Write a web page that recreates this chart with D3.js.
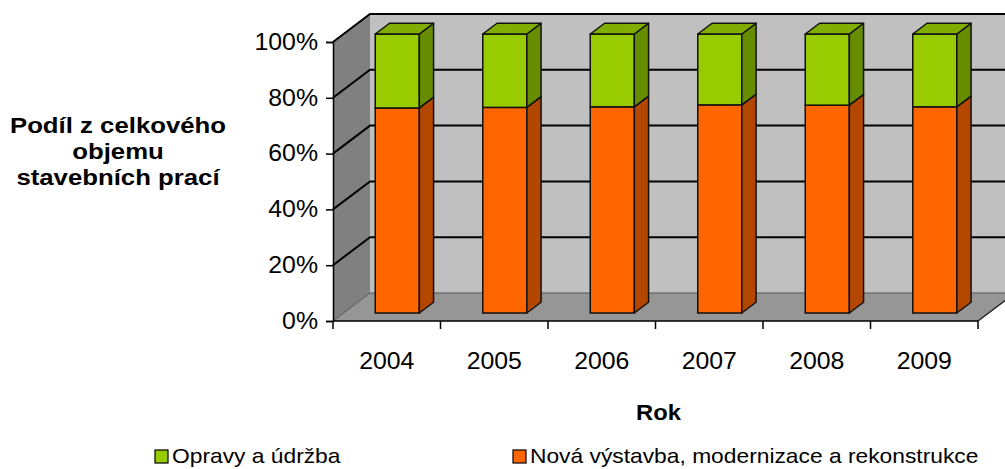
<!DOCTYPE html>
<html lang="cs">
<head>
  <meta charset="UTF-8">
  <title>Podíl z celkového objemu stavebních prací</title>
  <style>
    body {
      margin: 0;
      background: #fff;
      font-family: "Liberation Sans", Arial, sans-serif;
    }
    svg text {
      fill: #000;
    }
  </style>
</head>
<body>
  <div id="chart"></div>

  <script src="https://d3js.org/d3.v7.min.js"></script>
  <script>
    // data (percent of total volume)
    const years = ["2004", "2005", "2006", "2007", "2008", "2009"];
    const novaVystavba = [73.5, 73.7, 73.9, 74.6, 74.5, 73.9];
    const opravyUdrzba = [26.5, 26.3, 26.1, 25.4, 25.5, 26.1];
    const yTicks = [0, 20, 40, 60, 80, 100];
    const seriesNames = ["Opravy a údržba", "Nová výstavba, modernizace a rekonstrukce"];

    const width = 1005, height = 469;
    const plot = { left: 333, right: 978, top: 42, bottom: 321 };
    const depth = { dx: 37, dy: -28 };   // full depth of the 3D box
    const barZ = [0.285, 0.67];          // bar front / back as share of depth
    const stretch = 1.08;                // text looks a bit wide in the original

    const colors = {
      green: { front: "#99cc00", side: "#668c00", top: "#80ad00" },
      orange: { front: "#ff6600", side: "#b34700", top: "#d95700" },
      backWall: "#c0c0c0",
      sideWall: "#808080",
      floor: "#969696"
    };

    const svg = d3.select("#chart").append("svg")
      .attr("width", width)
      .attr("height", height);

    const x = d3.scaleBand()
      .domain(years)
      .range([plot.left, plot.right])
      .paddingInner(0.59)
      .paddingOuter(0.295);

    const xTick = d3.scaleBand()
      .domain(years)
      .range([plot.left, plot.right]);

    const y = d3.scaleLinear()
      .domain([0, 100])
      .range([plot.bottom, plot.top]);

    // project a point on the front plane back by z (0..1)
    function p(px, v, z) {
      return [px + z * depth.dx, y(v) + z * depth.dy];
    }

    function poly(points) {
      return points.map(d => d.join(",")).join(" ");
    }

    function stretchText(sel, k) {
      sel.each(function() {
        const t = d3.select(this);
        const tx = +t.attr("x") || 0;
        const ty = +t.attr("y") || 0;
        t.attr("transform", `translate(${tx},${ty}) scale(${k},1) translate(${-tx},${-ty})`);
      });
    }

    // walls and floor
    svg.append("polygon")
      .attr("points", poly([p(plot.left, 0, 1), p(plot.left, 100, 1), p(plot.right, 100, 1), p(plot.right, 0, 1)]))
      .attr("fill", colors.backWall);

    svg.append("polygon")
      .attr("points", poly([p(plot.left, 0, 0), p(plot.left, 100, 0), p(plot.left, 100, 1), p(plot.left, 0, 1)]))
      .attr("fill", colors.sideWall);

    svg.append("polygon")
      .attr("points", poly([p(plot.left, 0, 0), p(plot.right, 0, 0), p(plot.right, 0, 1), p(plot.left, 0, 1)]))
      .attr("fill", colors.floor);

    // gridlines across side wall and back wall
    svg.append("g")
      .selectAll("polyline")
      .data(yTicks)
      .enter()
      .append("polyline")
      .attr("points", d => poly([p(plot.left, d, 0), p(plot.left, d, 1), p(plot.right, d, 1)]))
      .attr("fill", "none")
      .attr("stroke", d => d === 0 ? "#555" : "#000")
      .attr("stroke-width", d => d === 0 ? 1 : 2);

    // floor right edge
    svg.append("line")
      .attr("x1", p(plot.right, 0, 0)[0]).attr("y1", p(plot.right, 0, 0)[1])
      .attr("x2", p(plot.right, 0, 1)[0]).attr("y2", p(plot.right, 0, 1)[1])
      .attr("stroke", "#222")
      .attr("stroke-width", 1.5);

    // bars
    const stacks = years.map((yr, i) => ({
      year: yr,
      segs: [
        { v0: 0, v1: novaVystavba[i], c: colors.orange },
        { v0: novaVystavba[i], v1: novaVystavba[i] + opravyUdrzba[i], c: colors.green }
      ]
    }));

    const bars = svg.append("g")
      .selectAll("g")
      .data(stacks)
      .enter()
      .append("g");

    bars.each(function(d) {
      const g = d3.select(this);
      const x0 = x(d.year), x1 = x(d.year) + x.bandwidth();
      const [z1, z2] = barZ;
      d.segs.forEach((s, k) => {
        const isTop = k === d.segs.length - 1;
        const fa = p(x0, s.v1, z1), fb = p(x1, s.v0, z1);
        g.append("rect")
          .attr("x", fa[0]).attr("y", fa[1])
          .attr("width", fb[0] - fa[0]).attr("height", fb[1] - fa[1])
          .attr("fill", s.c.front)
          .attr("stroke", "#111")
          .attr("stroke-width", 1.5);
        g.append("polygon")
          .attr("points", poly([p(x1, s.v0, z1), p(x1, s.v0, z2), p(x1, s.v1, z2), p(x1, s.v1, z1)]))
          .attr("fill", s.c.side)
          .attr("stroke", "#111")
          .attr("stroke-width", 1.5)
          .attr("stroke-linejoin", "round");
        if (isTop) {
          g.append("polygon")
            .attr("points", poly([p(x0, s.v1, z1), p(x0, s.v1, z2), p(x1, s.v1, z2), p(x1, s.v1, z1)]))
            .attr("fill", s.c.top)
            .attr("stroke", "#111")
            .attr("stroke-width", 1.5)
            .attr("stroke-linejoin", "round");
        }
      });
    });

    // axes on the front plane
    const yAxis = d3.axisLeft(y)
      .tickValues(yTicks)
      .tickFormat(d => d + "%")
      .tickSize(7)
      .tickPadding(8);

    const gy = svg.append("g")
      .attr("transform", `translate(${plot.left},0)`)
      .call(yAxis);
    gy.select(".domain").attr("stroke", "#000").attr("stroke-width", 1.5);
    gy.selectAll(".tick line").attr("stroke", "#000").attr("stroke-width", 1.5);
    gy.selectAll("text")
      .attr("font-family", "'Liberation Sans', Arial, sans-serif")
      .attr("font-size", 23)
      .attr("fill", "#000")
      .call(stretchText, stretch);

    const gx = svg.append("g");
    gx.append("line")
      .attr("x1", plot.left).attr("x2", plot.right)
      .attr("y1", plot.bottom).attr("y2", plot.bottom)
      .attr("stroke", "#000").attr("stroke-width", 1.5);
    gx.selectAll(".xt")
      .data(years.map(d => xTick(d)).concat([plot.right]))
      .enter()
      .append("line")
      .attr("x1", d => d).attr("x2", d => d)
      .attr("y1", plot.bottom).attr("y2", plot.bottom + 8)
      .attr("stroke", "#000").attr("stroke-width", 1.5);
    gx.selectAll("text")
      .data(years)
      .enter()
      .append("text")
      .attr("x", d => xTick(d) + xTick.bandwidth() / 2)
      .attr("y", 369)
      .attr("text-anchor", "middle")
      .attr("font-size", 23)
      .text(d => d)
      .call(stretchText, stretch);

    // axis titles
    svg.append("text")
      .attr("x", (plot.left + plot.right) / 2 + 3)
      .attr("y", 420)
      .attr("text-anchor", "middle")
      .attr("font-size", 22)
      .attr("font-weight", "bold")
      .text("Rok")
      .call(stretchText, stretch);

    const yTitle = ["Podíl z celkového", "objemu", "stavebních prací"];
    svg.append("g")
      .selectAll("text")
      .data(yTitle)
      .enter()
      .append("text")
      .attr("x", 118)
      .attr("y", (d, i) => 133 + i * 26)
      .attr("text-anchor", "middle")
      .attr("font-size", 23)
      .attr("font-weight", "bold")
      .text(d => d)
      .call(stretchText, 1.12);

    // legend
    const legendPos = [155, 513];
    const legendColors = [colors.green.front, colors.orange.front];
    const legend = svg.append("g")
      .selectAll("g")
      .data(seriesNames)
      .enter()
      .append("g");
    legend.append("rect")
      .attr("x", (d, i) => legendPos[i])
      .attr("y", 450)
      .attr("width", 13)
      .attr("height", 13)
      .attr("fill", (d, i) => legendColors[i])
      .attr("stroke", "#000")
      .attr("stroke-width", 1.2);
    legend.append("text")
      .attr("x", (d, i) => legendPos[i] + 17)
      .attr("y", 463)
      .attr("font-size", 20)
      .text(d => d)
      .call(stretchText, 1.14);
  </script>
</body>
</html>
